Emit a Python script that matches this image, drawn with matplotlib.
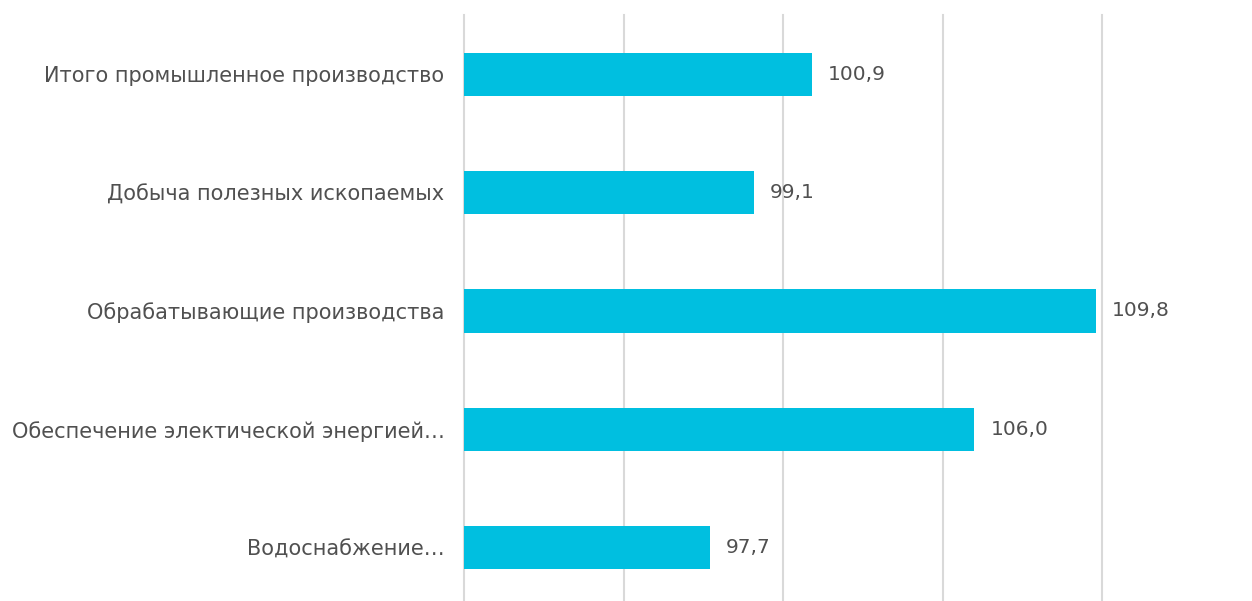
import matplotlib.pyplot as plt

categories = [
    'Итого промышленное производство',
    'Добыча полезных ископаемых',
    'Обрабатывающие производства',
    'Обеспечение электической энергией…',
    'Водоснабжение…',
]
values = [100.9, 99.1, 109.8, 106.0, 97.7]

bar_color = '#00BFE0'
text_color = '#505050'
grid_color = '#D9D9D9'
x_min, x_max = 90, 110

plt.rcParams['font.family'] = ['DejaVu Sans']

fig = plt.figure(figsize=(12.52, 6.01), dpi=100)
ax = fig.add_axes([464 / 1252, -6 / 601, 638 / 1252, 592 / 601])

ypos = list(range(len(categories)))
ax.barh(ypos, [v - x_min for v in values], left=x_min, height=0.365,
        color=bar_color, zorder=3)
ax.set_xlim(x_min, x_max)
ax.set_ylim(len(categories) - 0.5, -0.5)

ax.set_xticks(range(x_min, x_max + 1, 5))
ax.set_xticklabels([])
ax.tick_params(axis='x', length=0)
ax.grid(axis='x', color=grid_color, linewidth=1.5, zorder=0)
ax.grid(axis='y', visible=False)
for gl in ax.get_xgridlines():
    gl.set_clip_on(False)

ax.set_yticks(ypos)
ax.set_yticklabels(categories, fontsize=15, color=text_color)
ax.tick_params(axis='y', length=0, pad=14)

for y, v in zip(ypos, values):
    ax.text(v + 0.5, y, f'{v:.1f}'.replace('.', ','), va='center', ha='left',
            fontsize=14.5, color=text_color)

for s in ax.spines.values():
    s.set_visible(False)

fig.savefig('out.png', dpi=100)
